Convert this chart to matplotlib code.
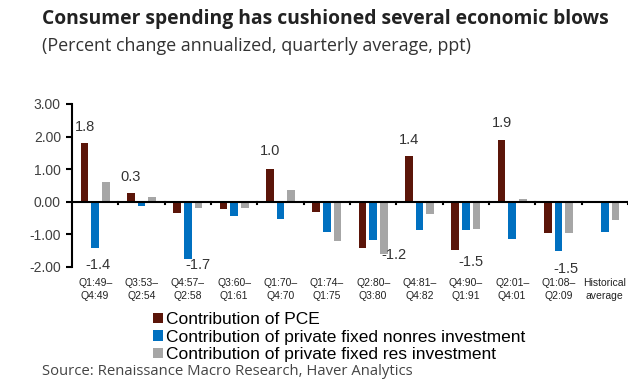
import matplotlib.pyplot as plt
import numpy as np

periods = ['Q1:49–\nQ4:49', 'Q3:53–\nQ2:54', 'Q4:57–\nQ2:58', 'Q3:60–\nQ1:61',
           'Q1:70–\nQ4:70', 'Q1:74–\nQ1:75', 'Q2:80–\nQ3:80', 'Q4:81–\nQ4:82',
           'Q4:90–\nQ1:91', 'Q2:01–\nQ4:01', 'Q1:08–\nQ2:09', 'Historical\naverage']
pce = [1.80, 0.27, -0.33, -0.22, 1.02, -0.30, -1.42, 1.40, -1.47, 1.91, -0.97, 0.0]
nonres = [-1.42, -0.13, -1.75, -0.45, -0.52, -0.93, -1.16, -0.87, -0.88, -1.13, -1.51, -0.93]
res = [0.62, 0.15, -0.20, -0.18, 0.35, -1.19, -1.59, -0.36, -0.82, 0.10, -0.97, -0.57]

# data labels: (group index, text, x offset in groups, y position)
labels = [(0, '1.8', -0.23, 2.3), (0, '-1.4', 0.05, -1.95), (1, '0.3', -0.23, 0.77),
          (2, '-1.7', 0.22, -1.95), (4, '1.0', -0.23, 1.57), (6, '-1.2', 0.45, -1.62),
          (7, '1.4', -0.23, 1.9), (8, '-1.5', 0.10, -1.84), (9, '1.9', -0.23, 2.43),
          (10, '-1.5', 0.15, -2.06)]

c_pce = '#5B1509'
c_nonres = '#0070C0'
c_res = '#A6A6A6'

fig = plt.figure(figsize=(6.35, 3.86), dpi=100)
ax = fig.add_axes([0.1134, 0.3083, 0.8756, 0.4223])

x = np.arange(len(periods))
w = 0.17
ax.bar(x - 0.23, pce, w, color=c_pce, label='Contribution of PCE')
ax.bar(x, nonres, w, color=c_nonres, label='Contribution of private fixed nonres investment')
ax.bar(x + 0.23, res, w, color=c_res, label='Contribution of private fixed res investment')

for i, t, dx, yv in labels:
    ax.text(i + dx, yv, t, ha='center', va='center', fontsize=10.5,
            family='Liberation Sans', color='#333333')

ax.set_xlim(-0.5, len(periods) - 0.5)
ax.set_ylim(-2, 3)
ax.set_yticks([-2, -1, 0, 1, 2, 3])
ax.set_yticklabels(['%.2f' % v for v in [-2, -1, 0, 1, 2, 3]],
                   family='Liberation Sans', fontsize=10, color='#404040')
for s in ['top', 'right', 'bottom']:
    ax.spines[s].set_visible(False)
ax.spines['left'].set_linewidth(1.5)
ax.tick_params(axis='y', length=4, width=1.5, pad=4)
ax.axhline(0, color='black', lw=1.5, zorder=3)
for b in np.arange(0.5, len(periods) - 0.5, 1.0):
    ax.plot([b, b], [0, -0.07], color='black', lw=1.5, zorder=3)
ax.plot([len(periods) - 0.5] * 2, [0, -0.07], color='black', lw=1.5, zorder=3)

ax.set_xticks(x)
ax.set_xticklabels(periods, family='Liberation Sans', fontsize=7.5, color='#222222',
                   linespacing=1.3)
ax.tick_params(axis='x', length=0, pad=8)

leg = fig.legend(loc='upper left', bbox_to_anchor=(0.228, 0.214), frameon=False,
                 prop={'family': 'Liberation Sans', 'size': 12.5},
                 handlelength=0.55, handleheight=0.55, handletextpad=0.2,
                 labelspacing=0.15, borderpad=0)

fig.text(0.066, 0.952, 'Consumer spending has cushioned several economic blows',
         family='Open Sans', weight='bold', fontsize=13.9, color='#222222', va='center')
fig.text(0.066, 0.88, '(Percent change annualized, quarterly average, ppt)',
         family='Open Sans', fontsize=12.9, color='#333333', va='center')
fig.text(0.066, 0.038, 'Source: Renaissance Macro Research, Haver Analytics',
         family='Open Sans', fontsize=10.75, color='#444444', va='center')

fig.savefig('out.png', dpi=100)
